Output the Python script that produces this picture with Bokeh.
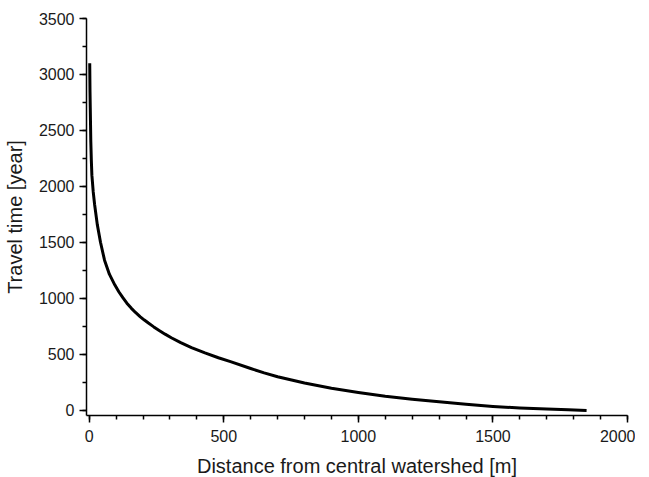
from bokeh.plotting import figure
from bokeh.models import SingleIntervalTicker, Range1d
from bokeh.embed import file_html
from bokeh.resources import INLINE

distance = [2, 3, 4, 6, 8, 10, 15, 20, 30, 42, 57, 75, 95, 110, 125, 140, 156, 172, 190, 205,
            220, 240, 260, 282, 305, 340, 380, 430, 480, 525, 600, 650, 700, 800, 900, 1000,
            1100, 1200, 1300, 1400, 1500, 1600, 1700, 1780, 1848]
travel_time = [3100, 2850, 2700, 2400, 2230, 2100, 1950, 1840, 1660, 1500, 1340, 1215, 1120,
               1058, 1005, 956, 912, 873, 834, 805, 778, 744, 712, 679, 647, 603, 559, 511, 468,
               433, 372, 333, 298, 242, 195, 158, 125, 98, 74, 52, 33, 19, 9, 3, -3]

FONT = "Liberation Sans"
TXT = "#1a1a1a"

p = figure(output_backend="svg", toolbar_location=None,
           frame_width=541, frame_height=397,
           min_border_left=86, min_border_top=18, min_border_right=8, min_border_bottom=10,
           x_range=Range1d(-10, 2000), y_range=Range1d(-48, 3500))

p.line(distance, travel_time, line_color="black", line_width=3, line_join="round")

p.xgrid.visible = False
p.ygrid.visible = False
p.outline_line_color = None
p.background_fill_color = "white"
p.border_fill_color = "white"

p.xaxis.ticker = SingleIntervalTicker(interval=500, num_minor_ticks=5)
p.yaxis.ticker = SingleIntervalTicker(interval=500, num_minor_ticks=2)

p.xaxis.axis_label = "Distance from central watershed [m]"
p.yaxis.axis_label = "Travel time [year]"

for ax in (p.xaxis[0], p.yaxis[0]):
    ax.axis_line_color = "black"
    ax.axis_line_width = 1.5
    ax.major_tick_line_color = "black"
    ax.major_tick_line_width = 1.5
    ax.minor_tick_line_color = "black"
    ax.minor_tick_line_width = 1.5
    ax.major_tick_in = 0
    ax.major_tick_out = 7
    ax.minor_tick_in = 0
    ax.minor_tick_out = 4
    ax.major_label_text_font = FONT
    ax.major_label_text_font_size = "16px"
    ax.major_label_text_color = TXT
    ax.axis_label_text_font = FONT
    ax.axis_label_text_font_size = "20px"
    ax.axis_label_text_font_style = "normal"
    ax.axis_label_text_color = TXT

p.xaxis.major_label_standoff = 7
p.yaxis.major_label_standoff = 5
p.xaxis.axis_label_standoff = 10
p.yaxis.axis_label_standoff = 10

open("out.html", "w").write(file_html(p, INLINE))
